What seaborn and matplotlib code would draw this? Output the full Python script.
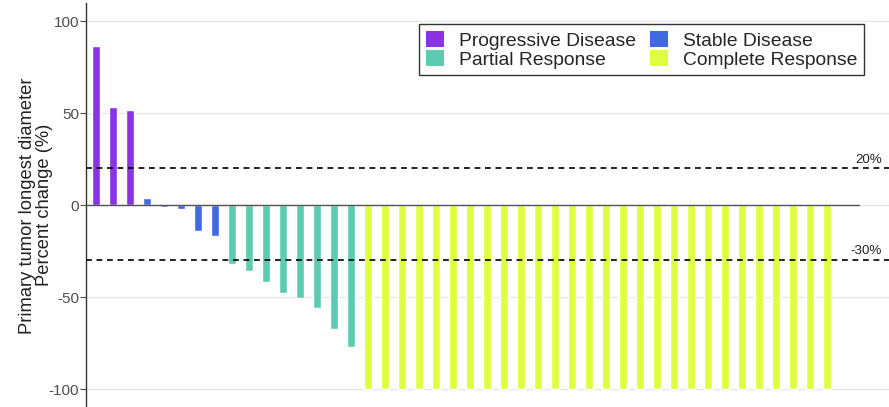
import matplotlib
matplotlib.use("Agg")
import matplotlib.pyplot as plt
import seaborn as sns
import pandas as pd
from matplotlib.patches import Patch

# Best overall response per patient, ordered as a waterfall
progressive = [86.7, 53.4, 52.0]
stable = [4.2, -0.8, -2.0, -14.0, -16.9]
partial = [-32.2, -36.0, -41.8, -47.6, -50.3, -55.8, -67.4, -77.0]
complete = [-100.0] * 28

categories = ["Progressive Disease", "Stable Disease", "Partial Response", "Complete Response"]
colors = ["#8a33e3", "#4169e1", "#5ccbb1", "#e0ff3c"]
thresholds = [20, -30]
threshold_labels = ["20%", "-30%"]
y_ticks = [-100, -50, 0, 50, 100]

values = progressive + stable + partial + complete
groups = (["Progressive Disease"] * len(progressive) + ["Stable Disease"] * len(stable)
          + ["Partial Response"] * len(partial) + ["Complete Response"] * len(complete))
df = pd.DataFrame({"patient": range(len(values)), "change": values, "response": groups})

sns.set_theme(style="white")
plt.rcParams["font.family"] = ["Liberation Sans", "DejaVu Sans"]

fig = plt.figure(figsize=(8.89, 4.07), dpi=100)
ax = fig.add_axes([86 / 889, -0.5 / 407, 803 / 889, 404.5 / 407])

sns.barplot(data=df, x="patient", y="change", hue="response", hue_order=categories,
            palette=dict(zip(categories, colors)), dodge=False, width=0.5,
            saturation=1, legend=False, ax=ax, zorder=3)

ax.set_xlim(-0.59, 46.65)
ax.set_ylim(-110, 110)
ax.set_yticks(y_ticks)
ax.set_yticklabels([str(t) for t in y_ticks])
ax.tick_params(axis="y", labelsize=11, labelcolor="#4d4d4d", colors="#4d4d4d",
               length=4, width=0.8, pad=1, left=True)
ax.set_xticks([])
ax.set_xlabel("")
ax.set_ylabel("Primary tumor longest diameter\nPercent change (%)", fontsize=13.2,
              color="#222222", linespacing=1.0)
ax.yaxis.set_label_coords(-0.041, 0.5)

for t in y_ticks:
    ax.axhline(t, color="#e6e6e6", lw=1.0, zorder=0)

# zero reference spanning the patients
ax.plot([-0.59, len(values) + 0.9], [0, 0], color="#555555", lw=1.0, zorder=4)

for y, lab in zip(thresholds, threshold_labels):
    ax.axhline(y, color="black", lw=1.2, ls=(0, (3.5, 2.8)), zorder=5)
    ax.text(0.991, y + 1.6, lab, transform=ax.get_yaxis_transform(), ha="right", va="bottom",
            fontsize=9.6, color="#222222")

for side in ["top", "right", "bottom"]:
    ax.spines[side].set_visible(False)
ax.spines["left"].set_color("#333333")
ax.spines["left"].set_linewidth(1.0)

handles = [Patch(facecolor=c, edgecolor="none", label=l) for c, l in zip(colors, categories)]
order = [0, 2, 1, 3]
leg = fig.legend([handles[i] for i in order], [categories[i] for i in order], ncol=2,
                 loc="upper right", bbox_to_anchor=(864 / 889, 1 - 24 / 407),
                 fontsize=13.9, frameon=True, fancybox=False, framealpha=1,
                 edgecolor="#333333", handlelength=0.95, handleheight=0.95,
                 handletextpad=0.75, columnspacing=0.75, labelspacing=0.0,
                 borderpad=0.35, borderaxespad=0)
leg.get_frame().set_linewidth(1.0)

fig.savefig("out.png", dpi=100)
